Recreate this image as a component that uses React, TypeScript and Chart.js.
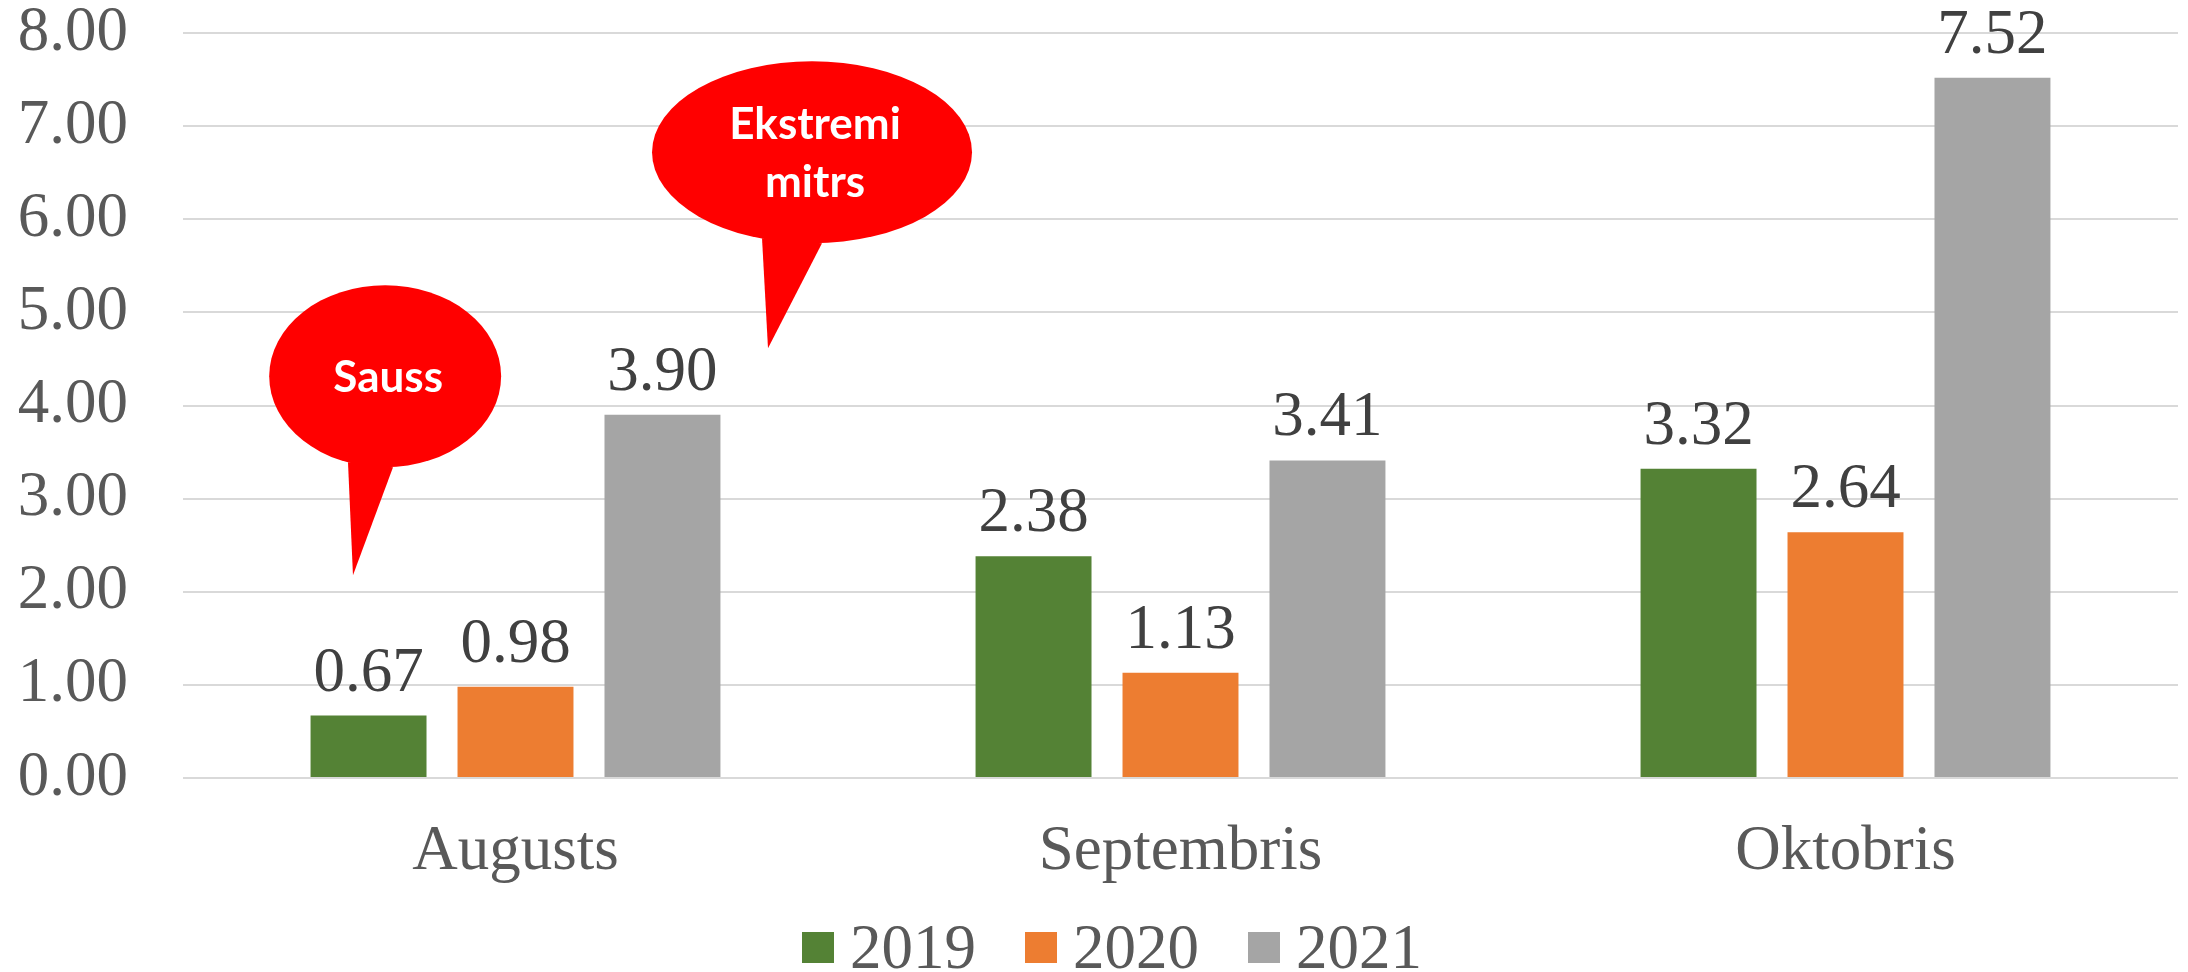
import React, { useEffect, useRef } from "react";
import { Chart, registerables } from "chart.js";

Chart.register(...registerables);

// ---------- data ----------
const categories = ["Augusts", "Septembris", "Oktobris"];
const seriesLabels = ["2019", "2020", "2021"];
const values2019 = [0.67, 2.38, 3.32];
const values2020 = [0.98, 1.13, 2.64];
const values2021 = [3.9, 3.41, 7.52];
const seriesColors = ["#548235", "#ED7D31", "#A5A5A5"];
const yMin = 0;
const yMax = 8;
const yStep = 1;

// ---------- annotation callouts (in data units: x = category index, y = value) ----------
const calloutTexts = [["Sauss"], ["Ekstremi", "mitrs"]];
const calloutCenters = [
  [-0.196, 4.314],
  [0.4459, 6.719],
];
const calloutRadii = [
  [0.1744, 0.977],
  [0.2406, 0.977],
];
const calloutTails = [
  [[-0.2519, 3.39], [-0.2444, 2.177], [-0.1842, 3.337]],
  [[0.3707, 5.795], [0.3797, 4.614], [0.4609, 5.742]],
];

const SERIF = "'Liberation Serif', 'Times New Roman', serif";
const FONT_SIZE = 63;

const dataLabelPlugin = {
  id: "dataLabels",
  afterDatasetsDraw(chart: any) {
    const ctx = chart.ctx;
    ctx.save();
    ctx.font = `${FONT_SIZE}px ${SERIF}`;
    ctx.fillStyle = "#404040";
    ctx.textAlign = "center";
    ctx.textBaseline = "alphabetic";
    chart.data.datasets.forEach((ds: any, di: number) => {
      const meta = chart.getDatasetMeta(di);
      meta.data.forEach((bar: any, i: number) => {
        const v = ds.data[i] as number;
        ctx.fillText(v.toFixed(2), bar.x, bar.y - 25);
      });
    });
    ctx.restore();
  },
};

const calloutPlugin = {
  id: "callouts",
  afterDraw(chart: any) {
    const ctx = chart.ctx;
    const xs = chart.scales.x;
    const ys = chart.scales.y;
    ctx.save();
    calloutTexts.forEach((lines, k) => {
      const [cx, cy] = calloutCenters[k];
      const [rx, ry] = calloutRadii[k];
      const px = xs.getPixelForValue(cx);
      const py = ys.getPixelForValue(cy);
      const prx = Math.abs(xs.getPixelForValue(cx + rx) - px);
      const pry = Math.abs(ys.getPixelForValue(cy + ry) - py);
      ctx.fillStyle = "#FF0000";
      ctx.beginPath();
      ctx.ellipse(px, py, prx, pry, 0, 0, Math.PI * 2);
      ctx.fill();
      const tail = calloutTails[k];
      ctx.beginPath();
      tail.forEach((p, j) => {
        const tx = xs.getPixelForValue(p[0]);
        const ty = ys.getPixelForValue(p[1]);
        if (j === 0) ctx.moveTo(tx, ty);
        else ctx.lineTo(tx, ty);
      });
      ctx.closePath();
      ctx.fill();
      ctx.fillStyle = "#FFFFFF";
      ctx.font = `bold 44px Lato, 'Open Sans', sans-serif`;
      ctx.textAlign = "center";
      ctx.textBaseline = "alphabetic";
      const lh = 58;
      const n = lines.length;
      lines.forEach((t, li) => {
        const by = py - ((n - 1) * lh) / 2 + li * lh + 16;
        ctx.fillText(t, px + 3, by);
      });
    });
    ctx.restore();
  },
};

const legendPlugin = {
  id: "customLegend",
  afterDraw(chart: any) {
    const ctx = chart.ctx;
    ctx.save();
    ctx.font = `${FONT_SIZE}px ${SERIF}`;
    const boxW = 32;
    const boxH = 31;
    const gap = 16;
    const itemGap = 49;
    const items = chart.data.datasets.map((ds: any) => ({
      label: ds.label,
      color: ds.backgroundColor,
      w: ctx.measureText(ds.label).width,
    }));
    const total =
      items.reduce((s: number, it: any) => s + boxW + gap + it.w, 0) +
      itemGap * (items.length - 1);
    let x = chart.width / 2 + 18 - total / 2;
    const boxTop = chart.height - 40;
    const baseline = chart.height - 4;
    ctx.textAlign = "left";
    ctx.textBaseline = "alphabetic";
    items.forEach((it: any) => {
      ctx.fillStyle = it.color;
      ctx.fillRect(x, boxTop, boxW, boxH);
      ctx.fillStyle = "#595959";
      ctx.fillText(it.label, x + boxW + gap, baseline);
      x += boxW + gap + it.w + itemGap;
    });
    ctx.restore();
  },
};

export default function App() {
  const canvasRef = useRef<HTMLCanvasElement | null>(null);

  useEffect(() => {
    document.body.style.margin = "0";
    const canvas = canvasRef.current;
    if (!canvas) return;
    const seriesValues = [values2019, values2020, values2021];
    const chart = new Chart(canvas, {
      type: "bar",
      data: {
        labels: categories,
        datasets: seriesLabels.map((label, i) => ({
          label,
          data: seriesValues[i],
          backgroundColor: seriesColors[i],
          borderWidth: 0,
          categoryPercentage: 0.663,
          barPercentage: 0.789,
        })),
      },
      options: {
        responsive: false,
        animation: false,
        devicePixelRatio: 1,
        layout: { padding: { left: 18, right: 10, top: 33, bottom: 0 } },
        plugins: {
          legend: { display: false },
          tooltip: { enabled: false },
          title: { display: false },
        },
        scales: {
          x: {
            grid: { display: false, drawTicks: false },
            border: { display: false },
            ticks: {
              color: "#595959",
              font: { family: SERIF, size: FONT_SIZE, lineHeight: 1.2 },
              padding: 37,
              maxRotation: 0,
              autoSkip: false,
            },
            afterFit: (scale: any) => {
              scale.height = 194;
              scale.paddingLeft = 0;
              scale.paddingRight = 0;
              scale.paddingTop = 0;
              scale.paddingBottom = 0;
            },
          },
          y: {
            min: yMin,
            max: yMax,
            grid: { color: "#D9D9D9", lineWidth: 2, drawTicks: false },
            border: { display: false },
            ticks: {
              stepSize: yStep,
              color: "#595959",
              font: { family: SERIF, size: FONT_SIZE, lineHeight: 1 },
              padding: 55,
              callback: (v: any) => Number(v).toFixed(2),
            },
            afterFit: (scale: any) => {
              scale.width = 165;
              scale.paddingTop = 0;
              scale.paddingBottom = 0;
              scale.paddingLeft = 0;
              scale.paddingRight = 0;
            },
          },
        },
      },
      plugins: [dataLabelPlugin, calloutPlugin, legendPlugin],
    });
    return () => chart.destroy();
  }, []);

  return (
    <div style={{ width: 2188, height: 972, background: "#FFFFFF" }}>
      <canvas ref={canvasRef} width={2188} height={972} style={{ display: "block" }} />
    </div>
  );
}
